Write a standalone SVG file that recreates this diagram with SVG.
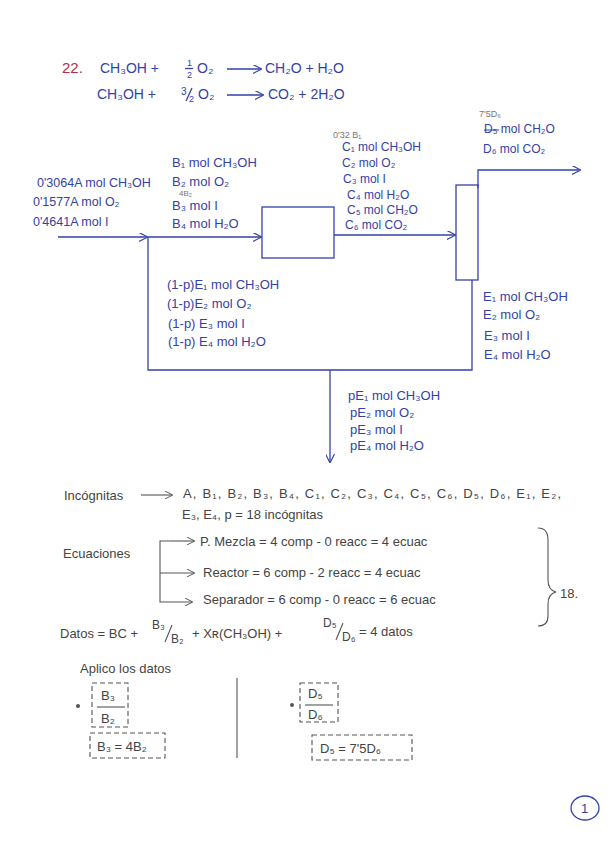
<svg xmlns="http://www.w3.org/2000/svg" width="610" height="848" viewBox="0 0 610 848">
<style>
.b{font-family:"Liberation Sans",Arial,sans-serif;font-size:12px;fill:#3342a8}
.s{font-size:12.5px}
.l{font-size:13px}
.eq{font-family:"Liberation Sans",Arial,sans-serif;font-size:14px;fill:#3342a8}
.g{font-family:"Liberation Sans",Arial,sans-serif;font-size:9px;fill:#777}
.p{font-family:"Liberation Sans",Arial,sans-serif;font-size:13px;fill:#444}
.ln{fill:none;stroke:#3342a8;stroke-width:1.3}
.pl{fill:none;stroke:#555;stroke-width:1.1}
.ds{fill:none;stroke:#555;stroke-width:1.1;stroke-dasharray:5 3}
</style>
<defs>
<marker id="ar" viewBox="0 0 10 10" refX="9" refY="5" markerWidth="9" markerHeight="9" orient="auto" markerUnits="userSpaceOnUse">
<path d="M0,0 L10,5 L0,10" fill="none" stroke="#3342a8" stroke-width="1.3"/>
</marker>
<marker id="ag" viewBox="0 0 10 10" refX="9" refY="5" markerWidth="8" markerHeight="8" orient="auto" markerUnits="userSpaceOnUse">
<path d="M0,0 L10,5 L0,10" fill="none" stroke="#555" stroke-width="1.2"/>
</marker>
</defs>
<rect width="610" height="848" fill="#fff"/>

<g id="equations">
<text x="62" y="73" font-family="Liberation Sans,Arial,sans-serif" font-size="15" fill="#a8324a">22.</text>
<text class="eq" x="100" y="73">CH₃OH +</text>
<text class="eq" x="187" y="66" style="font-size:9px">1</text>
<line x1="185" y1="68.5" x2="193" y2="68.5" class="ln" stroke-width="0.9"/>
<text class="eq" x="187" y="78" style="font-size:9px">2</text>
<text class="eq" x="197" y="73">O₂</text>
<line x1="227" y1="69" x2="261" y2="69" class="ln" marker-end="url(#ar)"/>
<text class="eq" x="265" y="73">CH₂O + H₂O</text>
<text class="eq" x="97" y="99">CH₃OH +</text>
<text class="eq" x="181" y="95" style="font-size:10px">3</text>
<line x1="186" y1="101" x2="192" y2="88" class="ln" stroke-width="0.9"/>
<text class="eq" x="189" y="102" style="font-size:9px">2</text>
<text class="eq" x="198" y="99">O₂</text>
<line x1="227" y1="95" x2="263" y2="95" class="ln" marker-end="url(#ar)"/>
<text class="eq" x="268" y="99">CO₂ + 2H₂O</text>
</g>

<g id="reactor">
<rect x="262" y="207" width="72" height="51" class="ln"/>
</g>
<g id="separator">
<rect x="456" y="185" width="22" height="95" class="ln"/>
</g>

<g id="connectors">
<path d="M58,237 H147" class="ln" marker-end="url(#ar)"/>
<path d="M148,237 H261" class="ln" marker-end="url(#ar)"/>
<path d="M334,235 H455" class="ln" marker-end="url(#ar)"/>
<path d="M478,188 V170 H580" class="ln" marker-end="url(#ar)"/>
<path d="M472,280 V370 H148 V237" class="ln"/>
<path d="M330,370 V462" class="ln" marker-end="url(#ar)"/>
</g>

<g id="feed-labels">
<text class="b s" x="37" y="187">0'3064A mol CH₃OH</text>
<text class="b s" x="33" y="206">0'1577A mol O₂</text>
<text class="b s" x="33" y="226">0'4641A mol I</text>
</g>
<g id="b-labels">
<text class="b l" x="172" y="167">B₁ mol CH₃OH</text>
<text class="b l" x="172" y="186">B₂ mol O₂</text>
<text class="g" x="179" y="196" style="font-size:8px">4B₂</text>
<text class="b l" x="172" y="210">B₃ mol I</text>
<text class="b l" x="172" y="228">B₄ mol H₂O</text>
</g>
<g id="c-labels">
<text class="g" x="333" y="138">0'32 B₁</text>
<text class="b" x="342" y="151">C₁ mol CH₃OH</text>
<text class="b" x="342" y="167">C₂ mol O₂</text>
<text class="b" x="343" y="183">C₃ mol I</text>
<text class="b" x="347" y="199">C₄ mol H₂O</text>
<text class="b" x="347" y="214">C₅ mol CH₂O</text>
<text class="b" x="345" y="229">C₆ mol CO₂</text>
</g>
<g id="d-labels">
<text class="g" x="479" y="117">7'5D₆</text>
<text class="b" x="484" y="133">D₅ mol CH₂O</text>
<line x1="484" y1="130" x2="499" y2="130" stroke="#3342a8" stroke-width="1"/>
<text class="b" x="483" y="153">D₆ mol CO₂</text>
</g>
<g id="recycle-labels">
<text class="b l" x="167" y="289">(1-p)E₁ mol CH₃OH</text>
<text class="b l" x="167" y="308">(1-p)E₂ mol O₂</text>
<text class="b l" x="168" y="328">(1-p) E₃ mol I</text>
<text class="b l" x="168" y="346">(1-p) E₄ mol H₂O</text>
</g>
<g id="e-labels">
<text class="b l" x="483" y="301">E₁ mol CH₃OH</text>
<text class="b l" x="483" y="319">E₂ mol O₂</text>
<text class="b l" x="484" y="340">E₃ mol I</text>
<text class="b l" x="484" y="359">E₄ mol H₂O</text>
</g>
<g id="purge-labels">
<text class="b l" x="348" y="400">pE₁ mol CH₃OH</text>
<text class="b l" x="350" y="417">pE₂ mol O₂</text>
<text class="b l" x="350" y="434">pE₃ mol I</text>
<text class="b l" x="350" y="450">pE₄ mol H₂O</text>
</g>

<g id="unknowns">
<text class="p" x="64" y="500">Incógnitas</text>
<line x1="141" y1="495" x2="172" y2="495" class="pl" marker-end="url(#ag)"/>
<text class="p" x="183" y="498" textLength="378" lengthAdjust="spacing">A, B₁, B₂, B₃, B₄, C₁, C₂, C₃, C₄, C₅, C₆, D₅, D₆, E₁, E₂,</text>
<text class="p" x="182" y="519">E₃, E₄, p = 18 incógnitas</text>
</g>

<g id="equations-count">
<text class="p" x="63" y="558">Ecuaciones</text>
<path d="M170,541 H160 V602 H192" class="pl" marker-end="url(#ag)"/>
<path d="M170,541 H194" class="pl" marker-end="url(#ag)"/>
<path d="M160,573 H194" class="pl" marker-end="url(#ag)"/>
<text class="p" x="200" y="546">P. Mezcla = 4 comp - 0 reacc = 4 ecuac</text>
<text class="p" x="203" y="577">Reactor = 6 comp - 2 reacc = 4 ecuac</text>
<text class="p" x="203" y="604">Separador = 6 comp - 0 reacc = 6 ecuac</text>
<path d="M538,528 Q548,528 548,540 V580 Q548,590 556,592 Q548,594 548,604 V616 Q548,626 538,626" class="pl"/>
<text class="p" x="560" y="598">18.</text>
</g>

<g id="data">
<text class="p" x="60" y="638">Datos = BC +</text>
<text class="p" x="152" y="629" style="font-size:12px">B₃</text>
<line x1="165" y1="642" x2="172" y2="625" class="pl"/>
<text class="p" x="171" y="643" style="font-size:12px">B₂</text>
<text class="p" x="192" y="638">+ Xʀ(CH₃OH) +</text>
<text class="p" x="323" y="627" style="font-size:12px">D₅</text>
<line x1="336" y1="640" x2="343" y2="623" class="pl"/>
<text class="p" x="342" y="641" style="font-size:12px">D₆</text>
<text class="p" x="359" y="636">= 4 datos</text>
<text class="p" x="80" y="673">Aplico los datos</text>
</g>

<g id="box-b">
<circle cx="78" cy="706" r="2" fill="#555"/>
<rect x="92" y="683" width="36" height="44" class="ds"/>
<text class="p" x="101" y="700">B₃</text>
<line x1="97" y1="707" x2="125" y2="707" class="pl"/>
<text class="p" x="101" y="723">B₂</text>
<rect x="90" y="733" width="75" height="25" class="ds"/>
<text class="p" x="97" y="751">B₃ = 4B₂</text>
</g>
<line x1="237" y1="678" x2="237" y2="758" class="pl" stroke="#888"/>
<g id="box-d">
<circle cx="292" cy="705" r="2" fill="#555"/>
<rect x="300" y="683" width="38" height="39" class="ds"/>
<text class="p" x="308" y="698">D₅</text>
<line x1="305" y1="705" x2="333" y2="705" class="pl"/>
<text class="p" x="308" y="719">D₆</text>
<rect x="312" y="735" width="100" height="25" class="ds"/>
<text class="p" x="320" y="753">D₅ = 7'5D₆</text>
</g>

<g id="page-number">
<ellipse cx="585" cy="808" rx="14" ry="12" class="ln"/>
<text class="b" x="581" y="813" style="font-size:13px">1</text>
</g>
</svg>
